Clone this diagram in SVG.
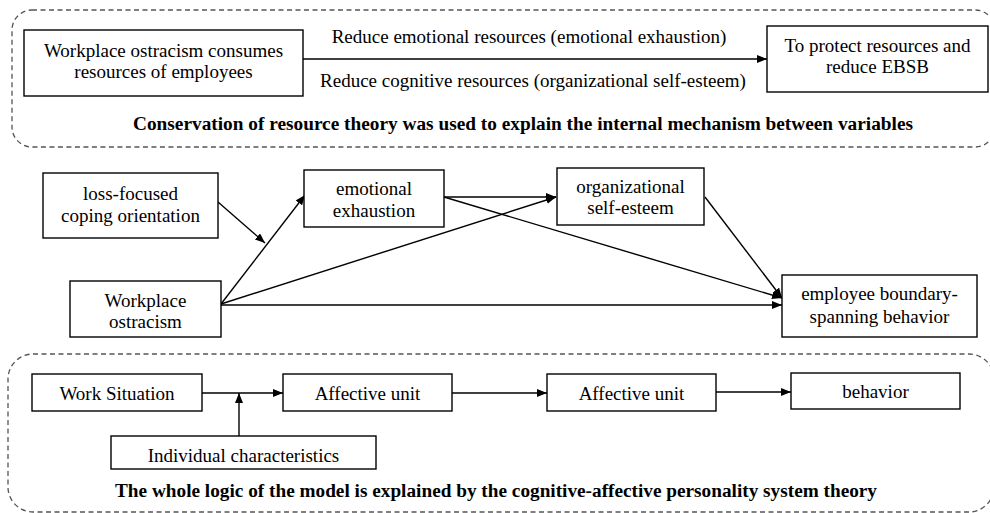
<svg xmlns="http://www.w3.org/2000/svg" width="990" height="513" viewBox="0 0 990 513">
<defs>
<marker id="ah" markerUnits="userSpaceOnUse" markerWidth="11" markerHeight="8" refX="10" refY="4" orient="auto">
<path d="M0,0 L10,4 L0,8 z" fill="#000"/>
</marker>
<style>
.box{fill:#fff;stroke:#000;stroke-width:1.4}
.frame{fill:none;stroke:#555;stroke-width:1.3;stroke-dasharray:5,3.5}
.t{font-family:"Liberation Serif","Times New Roman",serif;font-size:19px;fill:#000;text-anchor:middle}
.b{font-family:"Liberation Serif","Times New Roman",serif;font-size:18px;font-weight:bold;fill:#000;text-anchor:middle}
.c{fill:none;stroke:#000;stroke-width:1.4;marker-end:url(#ah)}
</style>
</defs>
<rect width="990" height="513" fill="#fff"/>

<g id="frame-top">
<rect class="frame" x="12" y="10" width="983" height="137" rx="20" ry="20"/>
<text class="b" x="523" y="130" textLength="780" lengthAdjust="spacingAndGlyphs">Conservation of resource theory was used to explain the internal mechanism between variables</text>
</g>
<g id="frame-bottom">
<rect class="frame" x="8" y="354" width="986" height="158" rx="25" ry="25"/>
<text class="b" x="496" y="497" textLength="762" lengthAdjust="spacingAndGlyphs">The whole logic of the model is explained by the cognitive-affective personality system theory</text>
</g>

<g id="connectors">
<line class="c" x1="303" y1="59" x2="767" y2="59"/>
<line class="c" x1="218" y1="202" x2="265" y2="243"/>
<line class="c" x1="221" y1="304" x2="305" y2="195"/>
<line class="c" x1="221" y1="304" x2="556" y2="197"/>
<line class="c" x1="444" y1="197" x2="556" y2="197"/>
<line class="c" x1="444" y1="197" x2="782" y2="298"/>
<line class="c" x1="705" y1="197" x2="782" y2="298"/>
<line class="c" x1="221" y1="305" x2="782" y2="305"/>
<line class="c" x1="202" y1="393" x2="283" y2="393"/>
<line class="c" x1="239" y1="436" x2="239" y2="393"/>
<line class="c" x1="452" y1="393" x2="547" y2="393"/>
<line class="c" x1="716" y1="392" x2="791" y2="392"/>
<text class="t" x="529" y="43">Reduce emotional resources (emotional exhaustion)</text>
<text class="t" x="533" y="87">Reduce cognitive resources (organizational self-esteem)</text>
</g>

<g id="n-consumes">
<rect class="box" x="24" y="30" width="279" height="66"/>
<text class="t" x="163.5" y="57">Workplace ostracism consumes</text>
<text class="t" x="163.5" y="78">resources of employees</text>
</g>
<g id="n-protect">
<rect class="box" x="767" y="26" width="221" height="66"/>
<text class="t" x="877.5" y="52">To protect resources and</text>
<text class="t" x="877.5" y="73">reduce EBSB</text>
</g>
<g id="n-loss">
<rect class="box" x="43" y="173" width="175" height="65"/>
<text class="t" x="130.5" y="200">loss-focused</text>
<text class="t" x="130.5" y="222">coping orientation</text>
</g>
<g id="n-ee">
<rect class="box" x="304" y="170" width="140" height="57"/>
<text class="t" x="374" y="195">emotional</text>
<text class="t" x="374" y="217">exhaustion</text>
</g>
<g id="n-wo">
<rect class="box" x="70" y="281" width="151" height="56"/>
<text class="t" x="145.5" y="307">Workplace</text>
<text class="t" x="145.5" y="328">ostracism</text>
</g>
<g id="n-ose">
<rect class="box" x="557" y="168" width="147" height="57"/>
<text class="t" x="630.5" y="193">organizational</text>
<text class="t" x="630.5" y="214">self-esteem</text>
</g>
<g id="n-ebsb">
<rect class="box" x="782" y="275" width="195" height="62"/>
<text class="t" x="879.5" y="300">employee boundary-</text>
<text class="t" x="879.5" y="323">spanning behavior</text>
</g>
<g id="n-ws">
<rect class="box" x="32" y="374" width="170" height="37"/>
<text class="t" x="117" y="400">Work Situation</text>
</g>
<g id="n-au1">
<rect class="box" x="283" y="374" width="169" height="37"/>
<text class="t" x="367.5" y="400">Affective unit</text>
</g>
<g id="n-au2">
<rect class="box" x="547" y="374" width="169" height="37"/>
<text class="t" x="631.5" y="400">Affective unit</text>
</g>
<g id="n-beh">
<rect class="box" x="791" y="373" width="169" height="36"/>
<text class="t" x="875.5" y="398">behavior</text>
</g>
<g id="n-ic">
<rect class="box" x="111" y="436" width="265" height="33"/>
<text class="t" x="243.5" y="462">Individual characteristics</text>
</g>
</svg>
